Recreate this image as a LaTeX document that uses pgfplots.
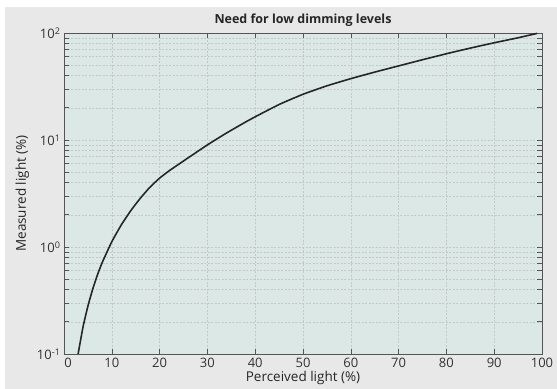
\documentclass[border=0pt]{standalone}
\usepackage{pgfplots}
\pgfplotsset{compat=1.18}
\usepackage{fontspec}
\setmainfont{Open Sans}
\usetikzlibrary{calc,backgrounds}
\definecolor{outerbg}{RGB}{232,232,232}
\definecolor{plotbg}{RGB}{220,232,230}
\definecolor{axcol}{RGB}{85,85,85}
\definecolor{gridcol}{RGB}{196,200,200}
\begin{document}
\begin{tikzpicture}
\begin{axis}[name=ax,
  scale only axis, width=478pt, height=321pt,
  xmin=0, xmax=100, ymode=log, ymin=0.1, ymax=100,
  axis background/.style={fill=plotbg},
  axis line style={axcol, line width=0.9pt},
  xtick={0,10,...,100},
  xticklabels={\hspace{8pt}0,10,20,30,40,50,60,70,80,90,100},
  ytick={0.1,1,10,100},
  yticklabels={10\textsuperscript{-1},10\textsuperscript{0},10\textsuperscript{1},10\textsuperscript{2}},
  /pgf/number format/assume math mode=true,
  tick style={axcol, line width=0.6pt},
  major tick length=5pt, minor tick length=5pt,
  xmajorgrids, ymajorgrids, yminorgrids,
  major grid style={gridcol, dash pattern=on 2pt off 1.5pt, line width=0.5pt},
  minor grid style={gridcol, dash pattern=on 2pt off 1.5pt, line width=0.5pt},
  xticklabel style={font=\fontsize{13}{15}\selectfont, text=black!80, yshift=-1pt},
  yticklabel style={font=\fontsize{13}{15}\selectfont, text=black!80},
]
\addplot[color=black!85, line width=1.6pt, smooth, tension=0.3] coordinates {
(2.95,0.1) (4,0.181) (5,0.28) (6,0.403) (7,0.549) (8,0.717) (10,1.12)
(12,1.613) (14,2.195) (16,2.867) (18,3.629) (20,4.4) (22,5.155) (24,5.933)
(26,6.828) (28,7.84) (30,9.0) (32,10.24) (34,11.62) (36,13.09) (38,14.73)
(40,16.48) (45,21.47) (50,26.75) (55,32.07) (60,37.44) (65,43.1) (70,49.25)
(75,56.25) (80,64) (85,72.25) (90,81) (95,90.25) (99,99.2)
};
\end{axis}
\node[anchor=base, inner sep=0, font=\bfseries\fontsize{12.5}{14}\selectfont, text=black!85]
  at ($(ax.north)+(0,9pt)$) {Need for low dimming levels};
\node[anchor=base, inner sep=0, font=\fontsize{13.5}{15}\selectfont, text=black!85]
  at ($(ax.south)+(0,-28pt)$) {Perceived light (\%)};
\node[anchor=base, rotate=90, inner sep=0, font=\fontsize{13.5}{15}\selectfont, text=black!85]
  at ($(ax.west)+(-38pt,0)$) {Measured light (\%)};
\begin{scope}[on background layer]
\fill[outerbg] ($(ax.south west)+(-59pt,-35pt)$) rectangle ($(ax.north east)+(15pt,26pt)$);
\end{scope}
\pgfresetboundingbox
\path[use as bounding box] ($(ax.south west)+(-64pt,-35pt)$) rectangle ($(ax.north east)+(15pt,33pt)$);
\end{tikzpicture}
\end{document}
